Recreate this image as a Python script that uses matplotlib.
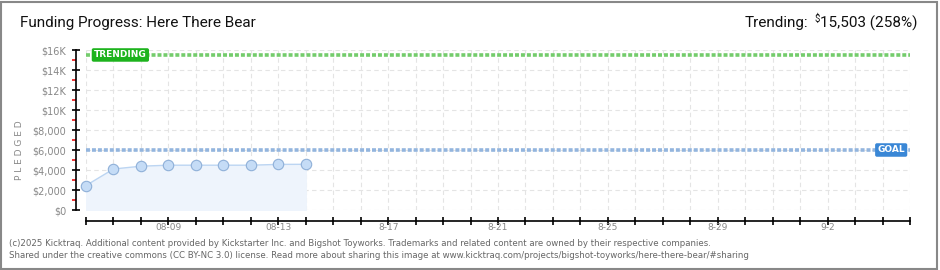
import numpy as np
import matplotlib
matplotlib.use('Agg')
import matplotlib.pyplot as plt
from matplotlib.patches import Rectangle

# data
days = list(range(31))  # 08-06 .. 09-05
point_days = [0, 1, 2, 3, 4, 5, 6, 7, 8]
pledged = [2450, 4100, 4380, 4480, 4480, 4480, 4480, 4560, 4570]
goal = 6000
trending = 15503
trend_pct = 258
xtick_days = [3, 7, 11, 15, 19, 23, 27]
xtick_labels = ['08-09', '08-13', '8-17', '8-21', '8-25', '8-29', '9-2']
ytick_vals = list(range(0, 16001, 2000))
ytick_labels = ['$0', '$2,000', '$4,000', '$6,000', '$8,000', '$10K', '$12K', '$14K', '$16K']

W, H = 940, 270
fig = plt.figure(figsize=(W / 100, H / 100), dpi=100)
ax = fig.add_axes([86 / W, 1 - 210 / H, (910 - 86) / W, 160 / H])

ax.set_xlim(0, 30)
ax.set_ylim(0, 16000)

# grid
for d in days:
    ax.axvline(d, color='#e4e4e4', lw=0.8, dashes=(4, 3), zorder=0)
for v in ytick_vals:
    ax.axhline(v, color='#e4e4e4', lw=0.8, dashes=(4, 3), zorder=0)

# goal / trending lines
ax.axhline(goal, color='#93b5de', lw=2.6, dashes=(1.1, 0.55), zorder=2)
ax.axhline(trending, color='#74cc6c', lw=2.6, dashes=(1.1, 0.55), zorder=2)

# series
ax.fill_between(point_days, pledged, 0, color='#eef4fc', zorder=1)
ax.plot(point_days, pledged, color='#bcd5f2', lw=1, zorder=3)
ax.plot(point_days, pledged, 'o', ms=7.5, mfc='#c5dcf6', mec='#8fb0d8', mew=0.8, zorder=4,
        clip_on=False)

# axes styling
for s in ['top', 'right']:
    ax.spines[s].set_visible(False)
ax.spines['left'].set_position(('outward', 7.2))
ax.spines['bottom'].set_position(('outward', 8))
ax.spines['left'].set_bounds(0, 16000)
ax.spines['left'].set_linewidth(1.2)
ax.spines['bottom'].set_linewidth(1.2)

ax.set_yticks(ytick_vals)
ax.set_yticklabels(ytick_labels)
ax.set_yticks(list(range(1000, 16000, 2000)), minor=True)
ax.tick_params(axis='y', which='major', direction='inout', length=6, width=1.2,
               colors='black', labelcolor='#888888', labelsize=7, pad=4)
ax.tick_params(axis='y', which='minor', direction='out', length=3, width=1.2, color='#ee1111')

ax.set_xticks(days)
ax.set_xticklabels([''] * len(days))
ax.tick_params(axis='x', which='major', direction='inout', length=6, width=1.2,
               colors='black')
for d, lab in zip(xtick_days, xtick_labels):
    ax.annotate(lab, (d, 0), xycoords=('data', 'axes fraction'), xytext=(0, -18),
                textcoords='offset pixels', ha='center', va='center', fontsize=6.5,
                color='#888888', annotation_clip=False)

fig.text(20 / W, 1 - 150 / H, 'P L E D G E D', rotation=90, ha='center', va='center',
         fontsize=6.5, color='#888888')

# labels on lines
ax.annotate('TRENDING', (0, trending), xytext=(8, 0), textcoords='offset pixels',
            ha='left', va='center', fontsize=6.5, color='white', fontweight='bold',
            bbox=dict(boxstyle='round,pad=0.25,rounding_size=0.2', fc='#1db31d', ec='none'),
            zorder=5)
ax.annotate('GOAL', (30, goal), xytext=(-5, 0), textcoords='offset pixels',
            ha='right', va='center', fontsize=6.5, color='white', fontweight='bold',
            bbox=dict(boxstyle='round,pad=0.25,rounding_size=0.2', fc='#3a87d6', ec='none'),
            zorder=5)

# titles
fig.text(20 / W, 1 - 23 / H, 'Funding Progress: Here There Bear', ha='left', va='center',
         fontsize=11, color='#111111', family='Roboto')
t1 = fig.text(918 / W, 1 - 23 / H, f'{trending:,} ({trend_pct}%)', ha='right', va='center',
              fontsize=11, color='#111111', family='Roboto')
fig.canvas.draw()
r = fig.canvas.get_renderer()
bb = t1.get_window_extent(r)
t2 = fig.text((bb.x0 - 1) / W, 1 - 19 / H, '$', ha='right', va='center', fontsize=7,
              color='#111111', family='Roboto')
bb2 = t2.get_window_extent(r)
fig.text((bb2.x0 - 6) / W, 1 - 23 / H, 'Trending:', ha='right', va='center', fontsize=11,
         color='#111111', family='Roboto')

# footer
fig.text(9 / W, 1 - 243 / H,
         '(c)2025 Kicktraq. Additional content provided by Kickstarter Inc. and Bigshot Toyworks. '
         'Trademarks and related content are owned by their respective companies.',
         ha='left', va='center', fontsize=6.25, color='#666666')
fig.text(9 / W, 1 - 256 / H,
         'Shared under the creative commons (CC BY-NC 3.0) license. Read more about sharing this '
         'image at www.kicktraq.com/projects/bigshot-toyworks/here-there-bear/#sharing',
         ha='left', va='center', fontsize=6.25, color='#666666')

# border
fig.patches.append(Rectangle((1 / W, 1 / H), 936 / W, 267 / H, transform=fig.transFigure,
                             fill=False, ec='#888888', lw=1.5))

fig.savefig('out.png', dpi=100)
